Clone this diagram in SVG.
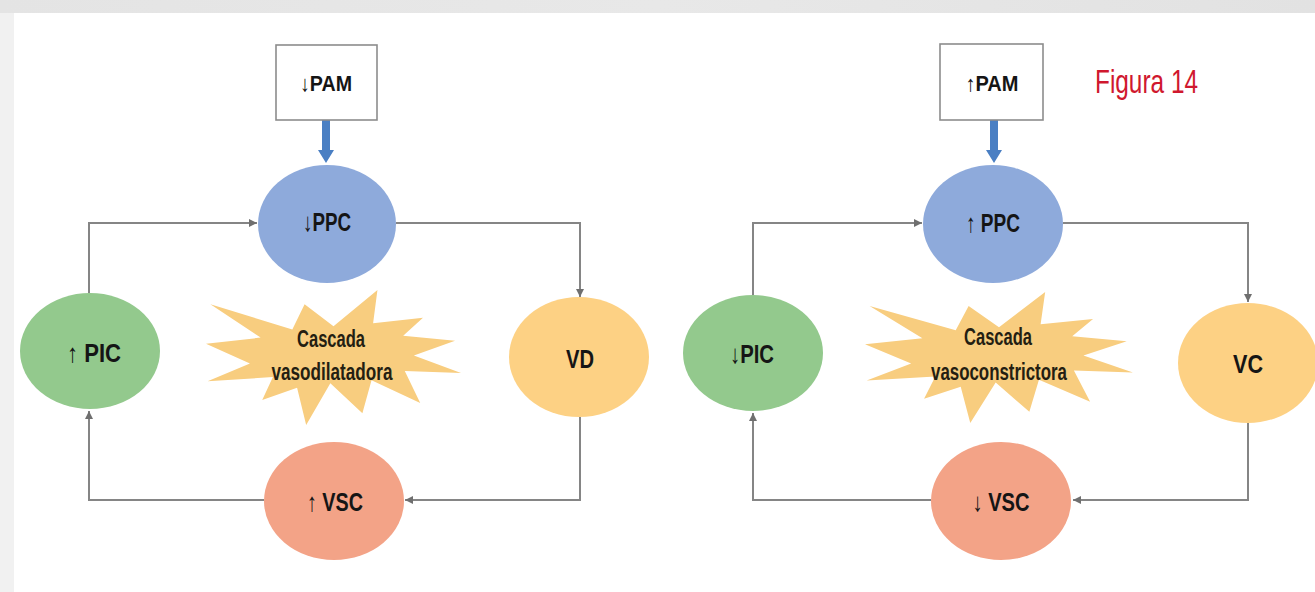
<svg xmlns="http://www.w3.org/2000/svg" width="1315" height="592" viewBox="0 0 1315 592">
<style>
.bg{fill:#ffffff}
.box{fill:#ffffff;stroke:#8c8c8c;stroke-width:1.6}
.lbl{font-family:"Liberation Sans","DejaVu Sans",Arial,sans-serif;font-weight:bold;fill:#151515;text-anchor:middle}
.star{fill:#f8cd7f}
.stxt{font-family:"Liberation Sans",Arial,sans-serif;font-weight:bold;font-size:23px;fill:#241e12;text-anchor:middle}
.con{fill:none;stroke:#858585;stroke-width:2}
.blue{fill:#8eaadb}
.green{fill:#93c98d}
.yellow{fill:#fdd184}
.salmon{fill:#f3a387}
</style>
<defs>
<marker id="ah" viewBox="0 0 10 10" refX="10" refY="5" markerWidth="4" markerHeight="4" orient="auto" markerUnits="strokeWidth">
<path d="M0,0 L10,5 L0,10 z" fill="#6f6f6f"/>
</marker>
<path id="seal" d="M10800,5800 L14522,0 L14155,5325 L18380,4457 L16702,7315 L21097,8137 L17607,10475 L21600,13290 L16837,12942 L18145,18095 L14020,14457 L13247,19737 L10532,14935 L8485,21600 L7715,15627 L4762,17617 L5667,13937 L135,14587 L3722,11775 L0,8615 L4627,7617 L370,2295 L7312,6320 L8352,2295 z"/>
<linearGradient id="topg" x1="0" y1="0" x2="1" y2="0">
<stop offset="0" stop-color="#e4e4e4"/>
<stop offset="0.5" stop-color="#e8e8e8"/>
<stop offset="1" stop-color="#e2e2e2"/>
</linearGradient>
</defs>
<rect x="0" y="0" width="1315" height="592" class="bg"/>
<rect x="0" y="0" width="1315" height="13" fill="url(#topg)"/>
<rect x="0" y="13" width="14" height="579" fill="#f1f1f1"/>

<g id="connectors">
<path class="con" d="M89,293 V223 H257" marker-end="url(#ah)"/>
<path class="con" d="M396,223 H580 V297" marker-end="url(#ah)"/>
<path class="con" d="M580,417 V500 H405" marker-end="url(#ah)"/>
<path class="con" d="M264,500 H89 V411" marker-end="url(#ah)"/>
<path class="con" d="M753,295 V223 H922" marker-end="url(#ah)"/>
<path class="con" d="M1063,223 H1248 V302" marker-end="url(#ah)"/>
<path class="con" d="M1248,423 V500 H1073" marker-end="url(#ah)"/>
<path class="con" d="M931,500 H753 V413" marker-end="url(#ah)"/>
<path d="M322,120 H330 V150 H334 L326,163 L318,150 H322 z" fill="#4a7fc3"/>
<path d="M990,120 H998 V150 H1002 L994,163 L986,150 H990 z" fill="#4a7fc3"/>
</g>

<g id="pam-left">
<rect class="box" x="276" y="45" width="101" height="75"/>
<text class="lbl" x="326" y="91" font-size="22" textLength="52" lengthAdjust="spacingAndGlyphs">↓PAM</text>
</g>
<g id="ppc-left">
<ellipse class="blue" cx="327" cy="224" rx="69" ry="59"/>
<text class="lbl" x="327" y="231" font-size="26" textLength="48" lengthAdjust="spacingAndGlyphs">↓PPC</text>
</g>
<g id="pic-left">
<ellipse class="green" cx="90" cy="351" rx="70" ry="58"/>
<text class="lbl" x="94" y="362" font-size="26" textLength="54" lengthAdjust="spacingAndGlyphs">↑ PIC</text>
</g>
<g id="vd">
<ellipse class="yellow" cx="579" cy="357" rx="70" ry="60"/>
<text class="lbl" x="580" y="368" font-size="25" textLength="28" lengthAdjust="spacingAndGlyphs">VD</text>
</g>
<g id="vsc-left">
<ellipse class="salmon" cx="334" cy="501" rx="70" ry="59"/>
<text class="lbl" x="335" y="511" font-size="26" textLength="56" lengthAdjust="spacingAndGlyphs">↑ VSC</text>
</g>
<g id="cascada-left">
<use href="#seal" class="star" transform="translate(206,290) scale(0.011806,0.00625)"/>
<text class="stxt" x="331" y="347" textLength="68" lengthAdjust="spacingAndGlyphs">Cascada</text>
<text class="stxt" x="332" y="380" textLength="121" lengthAdjust="spacingAndGlyphs">vasodilatadora</text>
</g>

<g id="pam-right">
<rect class="box" x="940" y="44" width="103" height="76"/>
<text class="lbl" x="992" y="91" font-size="22" textLength="53" lengthAdjust="spacingAndGlyphs">↑PAM</text>
</g>
<g id="figura">
<text x="1095" y="93" font-family="Liberation Sans,Arial,sans-serif" font-size="34" fill="#d0182e" textLength="103" lengthAdjust="spacingAndGlyphs">Figura 14</text>
</g>
<g id="ppc-right">
<ellipse class="blue" cx="993" cy="224" rx="70" ry="59"/>
<text class="lbl" x="993" y="232" font-size="26" textLength="54" lengthAdjust="spacingAndGlyphs">↑ PPC</text>
</g>
<g id="pic-right">
<ellipse class="green" cx="753" cy="353" rx="70" ry="58"/>
<text class="lbl" x="752" y="363" font-size="26" textLength="44" lengthAdjust="spacingAndGlyphs">↓PIC</text>
</g>
<g id="vc">
<ellipse class="yellow" cx="1248" cy="363" rx="70" ry="60"/>
<text class="lbl" x="1248" y="373" font-size="26" textLength="30" lengthAdjust="spacingAndGlyphs">VC</text>
</g>
<g id="vsc-right">
<ellipse class="salmon" cx="1001" cy="501" rx="70" ry="59"/>
<text class="lbl" x="1001" y="511" font-size="26" textLength="57" lengthAdjust="spacingAndGlyphs">↓ VSC</text>
</g>
<g id="cascada-right">
<use href="#seal" class="star" transform="translate(865,292) scale(0.012407,0.006065)"/>
<text class="stxt" x="998" y="345" textLength="68" lengthAdjust="spacingAndGlyphs">Cascada</text>
<text class="stxt" x="999" y="380" textLength="136" lengthAdjust="spacingAndGlyphs">vasoconstrictora</text>
</g>
</svg>
